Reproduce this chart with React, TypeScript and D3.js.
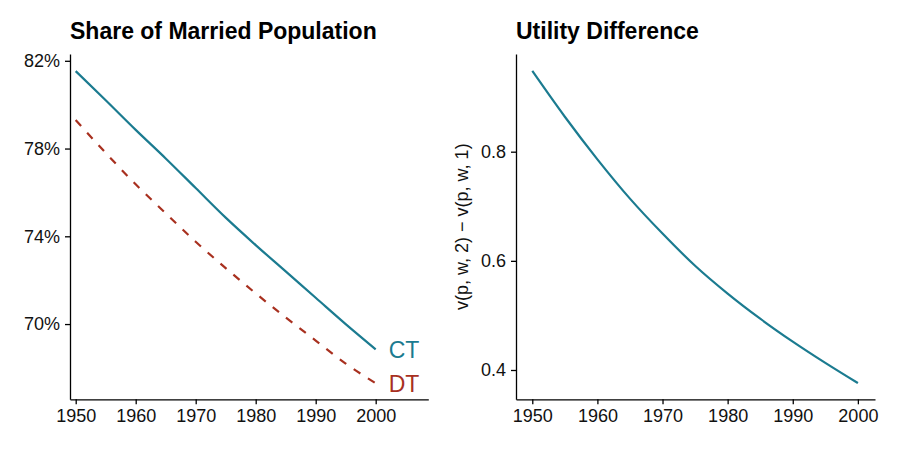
import { useEffect, useRef } from "react";
import * as d3 from "d3";

const years = [1950, 1955, 1960, 1965, 1970, 1975, 1980, 1985, 1990, 1995, 2000];
const shareCT = [81.53, 80.2, 78.85, 77.55, 76.2, 74.85, 73.6, 72.4, 71.2, 70.0, 68.85];
const shareDT = [79.3, 77.8, 76.37, 75.05, 73.75, 72.55, 71.4, 70.3, 69.25, 68.2, 67.3];
const utilityDiff = [0.948, 0.864, 0.786, 0.714, 0.65, 0.591, 0.54, 0.494, 0.452, 0.413, 0.376];

const xTicks = [1950, 1960, 1970, 1980, 1990, 2000];
const shareTicks = [70, 74, 78, 82];
const utilTicks = [0.4, 0.6, 0.8];

const TEAL = "#1b7b90";
const RED = "#a8301f";
const FONT = "'Liberation Sans', Arial, sans-serif";

export default function App() {
  const svgRef = useRef<SVGSVGElement>(null);

  useEffect(() => {
    document.body.style.margin = "0";
    if (!svgRef.current) return;
    const svg = d3.select(svgRef.current);
    svg.selectAll("*").remove();

    const top = 54;
    const bottom = 399.3;

    const styleAxis = (g: d3.Selection<SVGGElement, unknown, null, undefined>) => {
      g.select(".domain").attr("stroke", "#000").attr("stroke-width", 1.3);
      g.selectAll(".tick line").attr("stroke", "#000").attr("stroke-width", 1.3);
      g.selectAll(".tick text")
        .attr("fill", "#111")
        .attr("font-size", "18px")
        .attr("font-family", FONT);
    };

    // ---- left panel: share of married population
    const x1 = d3.scaleLinear().domain([1949.05, 2008.77]).range([70, 428.3]);
    const y1 = d3.scaleLinear().domain([66.57, 82.31]).range([bottom, top]);

    const gx1 = svg
      .append("g")
      .attr("transform", `translate(0,${bottom})`)
      .call(d3.axisBottom(x1).tickValues(xTicks).tickFormat(d3.format("d")).tickSize(5).tickSizeOuter(0).tickPadding(5));
    styleAxis(gx1);
    const gy1 = svg
      .append("g")
      .attr("transform", `translate(70,0)`)
      .call(d3.axisLeft(y1).tickValues(shareTicks).tickFormat((d) => `${d}%`).tickSize(5).tickSizeOuter(0).tickPadding(5));
    styleAxis(gy1);

    const line1 = d3
      .line<number>()
      .x((_, i) => x1(years[i]))
      .y((d) => y1(d))
      .curve(d3.curveMonotoneX);

    svg
      .append("path")
      .attr("d", line1(shareCT))
      .attr("fill", "none")
      .attr("stroke", TEAL)
      .attr("stroke-width", 2.2);
    svg
      .append("path")
      .attr("d", line1(shareDT))
      .attr("fill", "none")
      .attr("stroke", RED)
      .attr("stroke-width", 2.2)
      .attr("stroke-dasharray", "8,9");

    // direct labels
    const last = years.length - 1;
    svg
      .append("text")
      .attr("x", x1(years[last]) + 13)
      .attr("y", y1(shareCT[last]))
      .attr("dy", "0.36em")
      .attr("fill", TEAL)
      .attr("font-size", "23px")
      .attr("font-family", FONT)
      .text("CT");
    svg
      .append("text")
      .attr("x", x1(years[last]) + 13)
      .attr("y", y1(shareDT[last]))
      .attr("dy", "0.36em")
      .attr("fill", RED)
      .attr("font-size", "23px")
      .attr("font-family", FONT)
      .text("DT");

    svg
      .append("text")
      .attr("x", 70)
      .attr("y", 39)
      .attr("font-size", "23px")
      .attr("font-weight", "bold")
      .attr("font-family", FONT)
      .text("Share of Married Population");

    // ---- right panel: utility difference
    const x2 = d3.scaleLinear().domain([1947.5, 2002.63]).range([516, 875]);
    const y2 = d3.scaleLinear().domain([0.3463, 0.979]).range([bottom, top]);

    const gx2 = svg
      .append("g")
      .attr("transform", `translate(0,${bottom})`)
      .call(d3.axisBottom(x2).tickValues(xTicks).tickFormat(d3.format("d")).tickSize(5).tickSizeOuter(0).tickPadding(5));
    styleAxis(gx2);
    const gy2 = svg
      .append("g")
      .attr("transform", `translate(516,0)`)
      .call(d3.axisLeft(y2).tickValues(utilTicks).tickFormat(d3.format(".1f")).tickSize(5).tickSizeOuter(0).tickPadding(5));
    styleAxis(gy2);

    const line2 = d3
      .line<number>()
      .x((_, i) => x2(years[i]))
      .y((d) => y2(d))
      .curve(d3.curveMonotoneX);
    svg
      .append("path")
      .attr("d", line2(utilityDiff))
      .attr("fill", "none")
      .attr("stroke", TEAL)
      .attr("stroke-width", 2.2);

    svg
      .append("text")
      .attr("transform", `translate(462,${(top + bottom) / 2}) rotate(-90)`)
      .attr("text-anchor", "middle")
      .attr("dy", "0.35em")
      .attr("font-size", "18px")
      .attr("font-family", FONT)
      .attr("fill", "#111")
      .text("v(p, w, 2) \u2212 v(p, w, 1)");

    svg
      .append("text")
      .attr("x", 516)
      .attr("y", 39)
      .attr("font-size", "23px")
      .attr("font-weight", "bold")
      .attr("font-family", FONT)
      .text("Utility Difference");
  }, []);

  return (
    <svg
      ref={svgRef}
      width={897}
      height={449}
      style={{ display: "block", background: "#fff" }}
    ></svg>
  );
}
